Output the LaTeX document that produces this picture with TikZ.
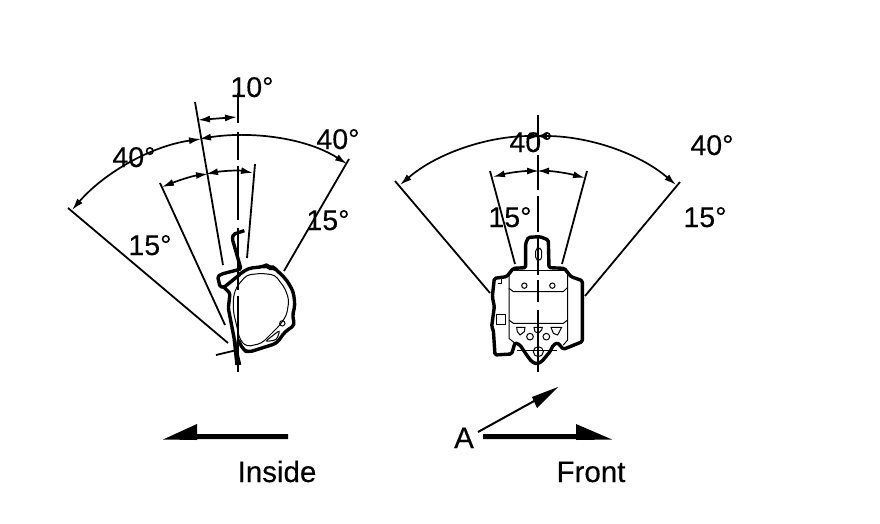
\documentclass[tikz,border=0pt]{standalone}
\usepackage{fontspec}
\setmainfont{Liberation Sans}
\newfontfamily\labfont[FakeBold=0.25]{Liberation Sans}
\usetikzlibrary{arrows.meta}
\tikzset{
  ext/.style={line width=1.8pt},
  dim/.style={line width=1.7pt,{Latex[length=12pt,width=7pt]}-{Latex[length=12pt,width=7pt]}},
  lab/.style={anchor=base,inner sep=0pt,font=\labfont\fontsize{28.5}{28.5}\selectfont},
  wlab/.style={anchor=base,inner sep=0pt,font=\labfont\fontsize{29.5}{29.5}\selectfont},
  outl/.style={line width=3.4pt,line join=round,rounded corners=1.5pt},
  fine/.style={line width=1pt},
  ctr/.style={line width=1.9pt}
}
\begin{document}
\begin{tikzpicture}[x=1pt,y=-1pt]
\useasboundingbox (0,0) rectangle (880,524);
\fill[white] (0,0) rectangle (880,524);
% left view extension lines
\draw[ctr] (238,93)--(238,123) (238,132)--(238,160) (238,166)--(238,220) (238,228)--(238,290) (238,296)--(238,372);
\draw[ext] (195,102)--(223,265);
\draw[ext] (160,183)--(225,325);
\draw[ext] (68,208)--(228,343);
\draw[ext] (255,164)--(247,258);
\draw[ext] (349,159)--(284,271);
\draw[ext] (216,355)--(237,350);
% left dims
\draw[dim] (198,120)--(237,117);
\draw[dim] (72,210) .. controls (104,173) and (151,146) .. (201,139);
\draw[dim] (199,139) .. controls (249,131) and (305,137) .. (347,164);
\draw[dim] (162,187) .. controls (177,181) and (192,176) .. (208,174);
\draw[dim] (206,174) .. controls (222,171) and (238,170) .. (253,173);
% left part
\begin{scope}[shift={(205,225)},scale=0.3333]
\draw[outl] (118,17)--(85,28)--(82,42)--(108,132)--(50,147)--(38,155)--(45,185)--(57,187)--(105,148);
\draw[outl] (57,187)--(75,205)--(70,250)--(98,395)--(104,420);
\draw[outl] (88,345)--(96,420);
\draw[outl,rounded corners=4pt] (100,150)--(130,130)--(175,125)--(185,120)--(195,130)--(205,127)--(215,135)--(245,165)--(265,200)--(270,240)--(262,275)--(270,300)--(240,320)--(215,355)--(130,382)--(115,375)--(100,345);
\draw[fine,rounded corners=4pt] (95,185)--(125,150)--(170,145)--(210,150)--(240,190)--(252,225)--(245,270)--(225,300)--(170,355)--(125,365)--(105,345)--(85,260)--(85,215)--cycle;
\draw[fine] (232,295) circle (8);
\draw[fine,rounded corners=3pt] (180,350)--(225,315)--(215,345)--cycle;
\end{scope}
% right view lines
\draw[ctr] (538,115)--(538,150) (538,155)--(538,190) (538,196)--(538,232) (538,238)--(538,275) (538,280)--(538,302) (538,310)--(538,372);
\draw[ext] (395,181)--(490,293);
\draw[ext] (680,182)--(585,296);
\draw[ext] (490,171)--(515,264);
\draw[ext] (587,171)--(562,264);
\draw[dim] (400,185) .. controls (437,153) and (488,136) .. (541,136);
\draw[dim] (535,136) .. controls (588,136) and (639,153) .. (676,185);
\draw[dim] (493,177) .. controls (508,173) and (522,171) .. (539,171);
\draw[dim] (537,171) .. controls (552,171) and (567,173) .. (585,178);
% right part
\begin{scope}[shift={(485,230)},scale=0.3333]
\draw[outl] (122,113)--(122,40)--(130,22)--(165,20)--(190,30)--(192,113)--(238,115)--(258,140)--(292,152)--(292,335)--(235,358)--(218,338)--(205,345)--(195,365)--(170,395)--(155,402)--(140,395)--(125,375)--(105,345)--(90,338)--(80,372)--(30,375)--(25,300)--(20,290)--(28,230)--(22,200)--(28,145)--(65,140)--(85,115)--cycle;
\draw[fine] (85,122)--(240,122);
\draw[fine] (72,130)--(72,325)--(90,340);
\draw[fine] (248,130)--(248,330)--(235,345);
\draw[fine] (72,175)--(85,185)--(235,185)--(248,172);
\draw[fine] (72,270)--(85,280)--(235,280)--(248,270);
\draw[fine] (118,167) circle (8);
\draw[fine] (202,167) circle (8);
\draw[fine] (135,320) circle (10);
\draw[fine] (184,320) circle (10);
\draw[fine] (95,292)--(120,292)--(118,305)--(105,315)--(97,305)--cycle;
\draw[fine] (147,292)--(172,292)--(170,300)--(160,310)--(150,305)--cycle;
\draw[fine] (198,292)--(230,292)--(218,315)--(205,310)--cycle;
\draw[fine] (160,365) circle (15);
\draw[fine] (95,362)--(215,362);
\draw[fine,rounded corners=3pt] (152,55) rectangle (170,90);
\draw[fine] (35,255) rectangle (62,285);
\draw[fine] (35,145)--(50,145)--(50,162)--(38,162);
\end{scope}
% bottom arrows
\fill (288,434)--(197,434)--(197,424)--(163,439.5)--(197,440)--(197,439)--(288,439)--cycle;
\fill (483,434)--(576,434)--(576,424)--(612,439.5)--(576,440)--(576,439)--(483,439)--cycle;
\draw[line width=2pt] (478,432)--(545,395);
\fill (558,387)--(532,397)--(537,408)--cycle;
% labels
\node[lab] (t1) at (252,97) {10°};
\node[lab] (t2) at (134,167) {40°};
\node[lab] (t3) at (338,149) {40°};
\node[lab] (t4) at (150,255) {15°};
\node[lab] (t5) at (328,230) {15°};
\node[lab] (t6) at (531,152) {40°};
\node[lab] (t7) at (712,155) {40°};
\node[lab] (t8) at (510,227) {15°};
\node[lab] (t9) at (705,227) {15°};
\node[wlab] (t10) at (277,482) {Inside};
\node[wlab] (t11) at (591,482) {Front};
\node[wlab] (t12) at (464,448) {A};
\end{tikzpicture}
\end{document}
